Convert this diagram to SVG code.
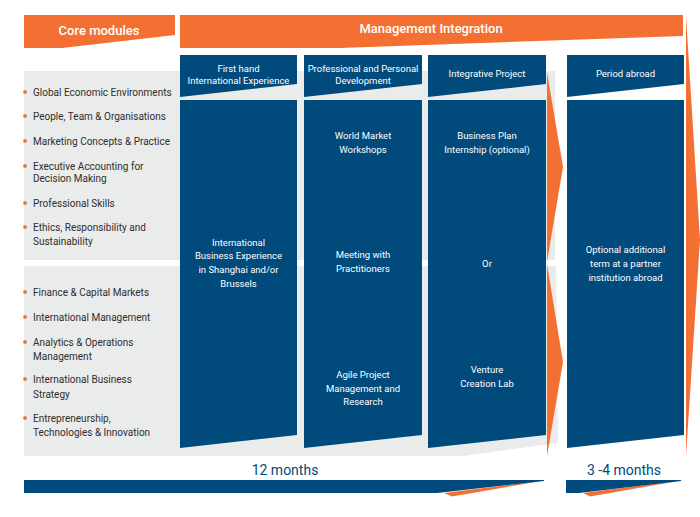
<svg xmlns="http://www.w3.org/2000/svg" width="700" height="517" viewBox="0 0 700 517">
<style>
.or{fill:#F37032}
.bl{fill:#004A7C}
.gr{fill:#EAEBEB}
.hd{font-family:Roboto,"Liberation Sans",sans-serif;font-size:13px;font-weight:500;fill:#fff;text-anchor:middle}
.wt{font-family:Roboto,"Liberation Sans",sans-serif;font-size:9.5px;fill:#fff;text-anchor:middle}
.li{font-family:Roboto,"Liberation Sans",sans-serif;font-size:10px;fill:#2E2E2E}
.mo{font-family:Roboto,"Liberation Sans",sans-serif;font-size:14px;fill:#004A7C;text-anchor:middle}
</style>
<rect width="700" height="517" fill="#fff"/>
<!-- gray panels -->
<rect class="gr" x="24" y="71" width="531" height="189"/>
<polygon class="gr" points="24,266 556,266 558,443 463,456 24,456"/>
<!-- orange chevrons -->
<g id="arrows">
<polygon class="or" points="547,72 563,167 547,262"/>
<polygon class="or" points="547,264 563,362 547,456"/>
<polygon class="or" points="686,16 700,240 686,456"/>
</g>
<g id="core-header">
<polygon class="or" points="24,15 175,15 175,35 62,48 24,48"/>
<text class="hd" x="99" y="35">Core modules</text>
</g>
<g id="mi-header">
<polygon class="or" points="180,15 683,15 683,36 340,48 180,48"/>
<text class="hd" x="431" y="33">Management Integration</text>
</g>
<g id="core-list-1">
<g class="or"><circle cx="25" cy="92" r="1.9"/><circle cx="25" cy="116" r="1.9"/><circle cx="25" cy="141" r="1.9"/><circle cx="25" cy="166" r="1.9"/><circle cx="25" cy="203" r="1.9"/><circle cx="25" cy="227" r="1.9"/></g>
<text class="li" x="33" y="95.5">Global Economic Environments</text>
<text class="li" x="33" y="119.5">People, Team &amp; Organisations</text>
<text class="li" x="33" y="144.5">Marketing Concepts &amp; Practice</text>
<text class="li" x="33" y="169.5">Executive Accounting for</text>
<text class="li" x="33" y="182">Decision Making</text>
<text class="li" x="33" y="206.5">Professional Skills</text>
<text class="li" x="33" y="230.5">Ethics, Responsibility and</text>
<text class="li" x="33" y="245">Sustainability</text>
</g>
<g id="core-list-2">
<g class="or"><circle cx="25" cy="292" r="1.9"/><circle cx="25" cy="317" r="1.9"/><circle cx="25" cy="342" r="1.9"/><circle cx="25" cy="379" r="1.9"/><circle cx="25" cy="418" r="1.9"/></g>
<text class="li" x="33" y="295.5">Finance &amp; Capital Markets</text>
<text class="li" x="33" y="321">International Management</text>
<text class="li" x="33" y="345.5">Analytics &amp; Operations</text>
<text class="li" x="33" y="359.5">Management</text>
<text class="li" x="33" y="382.5">International Business</text>
<text class="li" x="33" y="397.5">Strategy</text>
<text class="li" x="33" y="421.5">Entrepreneurship,</text>
<text class="li" x="33" y="435.5">Technologies &amp; Innovation</text>
</g>
<g id="col1">
<polygon class="bl" points="180,55 297,55 297,84 180,97"/>
<text class="wt" x="238.5" y="71.5">First hand</text>
<text class="wt" x="238.5" y="83.5">International Experience</text>
<polygon class="bl" points="180,100 297,100 297,435 180,448"/>
<text class="wt" x="238.5" y="245.5">International</text>
<text class="wt" x="238.5" y="259">Business Experience</text>
<text class="wt" x="238.5" y="272.5">in Shanghai and/or</text>
<text class="wt" x="238.5" y="286.5">Brussels</text>
</g>
<g id="col2">
<polygon class="bl" points="304,55 422,55 422,84 304,97"/>
<text class="wt" x="363" y="71.5">Professional and Personal</text>
<text class="wt" x="363" y="83.5">Development</text>
<polygon class="bl" points="304,100 422,100 422,435 304,448"/>
<text class="wt" x="363" y="138.5">World Market</text>
<text class="wt" x="363" y="152.5">Workshops</text>
<text class="wt" x="363" y="257.5">Meeting with</text>
<text class="wt" x="363" y="271.5">Practitioners</text>
<text class="wt" x="363" y="377.5">Agile Project</text>
<text class="wt" x="363" y="391.5">Management and</text>
<text class="wt" x="363" y="404.5">Research</text>
</g>
<g id="col3">
<polygon class="bl" points="428,55 546,55 546,84 428,97"/>
<text class="wt" x="487" y="77">Integrative Project</text>
<polygon class="bl" points="428,100 546,100 546,435 428,448"/>
<text class="wt" x="487" y="138.5">Business Plan</text>
<text class="wt" x="487" y="152.5">Internship (optional)</text>
<text class="wt" x="487" y="266.5">Or</text>
<text class="wt" x="487" y="372.5">Venture</text>
<text class="wt" x="487" y="386.5">Creation Lab</text>
</g>
<g id="col4">
<polygon class="bl" points="567,55 684,55 684,84 567,97"/>
<text class="wt" x="625.5" y="77">Period abroad</text>
<polygon class="bl" points="567,100 684,100 684,435 567,448"/>
<text class="wt" x="625.5" y="252.5">Optional additional</text>
<text class="wt" x="625.5" y="266.5">term at a partner</text>
<text class="wt" x="625.5" y="280.5">institution abroad</text>
</g>
<g id="bar-12">
<polygon class="or" points="444,493 452,496.5 544,480.5"/>
<polygon class="bl" points="24,480 544,480 544,481 437,493 24,493"/>
<text class="mo" x="285" y="475">12 months</text>
</g>
<g id="bar-34">
<polygon class="or" points="583,493 590,496.5 681,480.5"/>
<polygon class="bl" points="566,480 681,480 681,481 579,493 566,493"/>
<text class="mo" x="624" y="475">3 -4 months</text>
</g>
</svg>
